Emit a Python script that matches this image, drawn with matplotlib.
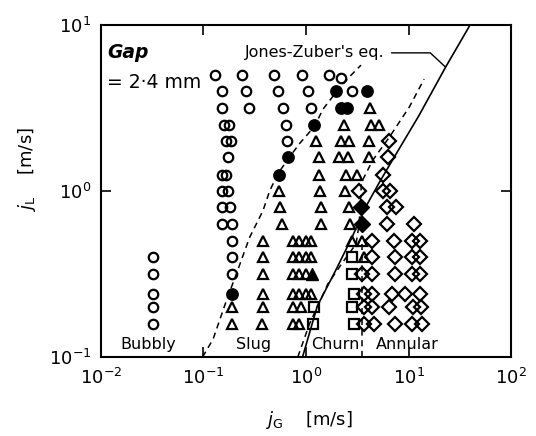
import matplotlib.pyplot as plt
from matplotlib.ticker import LogLocator, NullLocator

# --- flow pattern data, superficial velocities [m/s] ---
# open circles (bubbly / slug)
circle_jg = [0.129, 0.236, 0.49, 0.92, 1.69, 2.2,
             0.150, 0.262, 0.53, 1.05, 2.8,
             0.153, 0.276, 0.59, 1.13,
             0.158, 0.177, 0.64,
             0.167, 0.187, 0.65,
             0.172,
             0.150, 0.167,
             0.153, 0.173,
             0.150, 0.180,
             0.150, 0.188,
             0.188,
             0.032, 0.188,
             0.032, 0.190,
             0.032, 0.032, 0.032]
circle_jl = [5.0, 5.0, 5.0, 5.0, 5.0, 4.8,
             4.0, 4.0, 4.0, 4.0, 4.0,
             3.15, 3.15, 3.15, 3.15,
             2.5, 2.5, 2.5,
             2.0, 2.0, 2.0,
             1.6,
             1.25, 1.25,
             1.0, 1.0,
             0.8, 0.8,
             0.63, 0.63,
             0.5,
             0.4, 0.4,
             0.315, 0.315,
             0.24, 0.2, 0.157]

# filled circles
dot_jg = [0.54, 0.66, 1.21, 1.94, 2.2, 2.5, 3.9, 0.188]
dot_jl = [1.25, 1.6, 2.5, 4.0, 3.15, 3.15, 4.0, 0.24]

# open triangles (slug)
tri_jg = [4.25,
          2.33, 4.35, 5.2,
          1.26, 2.2, 2.6, 4.15,
          1.33, 2.09, 2.55, 4.1,
          1.35, 2.45, 3.15,
          0.544, 1.37, 2.42,
          0.552, 1.41, 2.6,
          0.577, 1.41, 2.66,
          0.377, 0.74, 0.86, 0.99, 1.13, 2.78, 3.55,
          0.377, 0.74, 0.86, 0.99, 1.13, 3.7,
          0.377, 0.74, 0.86, 0.99,
          0.377, 0.74, 0.86, 0.99, 1.13,
          0.188, 0.377, 0.74, 0.9,
          0.188, 0.369, 0.74, 0.86]
tri_jl = [3.15,
          2.5, 2.5, 2.5,
          2.0, 2.0, 2.0, 2.0,
          1.6, 1.6, 1.6, 1.6,
          1.25, 1.25, 1.25,
          1.0, 1.0, 1.0,
          0.8, 0.8, 0.8,
          0.63, 0.63, 0.63,
          0.5, 0.5, 0.5, 0.5, 0.5, 0.5, 0.5,
          0.4, 0.4, 0.4, 0.4, 0.4, 0.4,
          0.315, 0.315, 0.315, 0.315,
          0.24, 0.24, 0.24, 0.24, 0.24,
          0.2, 0.2, 0.2, 0.2,
          0.157, 0.157, 0.157, 0.157]

# filled triangle
ftri_jg = [1.15]
ftri_jl = [0.315]

# open squares (churn)
sq_jg = [2.84, 2.84, 2.95, 1.21, 2.84, 1.18, 2.95]
sq_jl = [0.4, 0.315, 0.24, 0.2, 0.2, 0.157, 0.157]

# open diamonds (annular)
dia_jg = [6.5, 6.3, 5.6,
          3.32, 5.7, 6.6,
          6.1, 7.6,
          6.1, 11.2,
          4.45, 7.2, 10.7, 12.8,
          4.45, 7.3, 10.7, 12.8,
          3.55, 4.45, 7.3, 10.7, 12.8,
          3.64, 4.45, 6.9, 9.3, 13.0,
          3.64, 4.45, 6.5, 11.0, 13.3,
          3.7, 4.6, 7.3, 10.9, 13.6]
dia_jl = [2.0, 1.6, 1.25,
          1.0, 1.0, 1.0,
          0.8, 0.8,
          0.63, 0.63,
          0.5, 0.5, 0.5, 0.5,
          0.4, 0.4, 0.4, 0.4,
          0.315, 0.315, 0.315, 0.315, 0.315,
          0.24, 0.24, 0.24, 0.24, 0.24,
          0.2, 0.2, 0.2, 0.2, 0.2,
          0.157, 0.157, 0.157, 0.157, 0.157]

# filled diamonds
fdia_jg = [3.45, 3.5]
fdia_jl = [0.8, 0.63]

# --- transition boundaries ---
bubbly_slug_jg = [0.098, 0.124, 0.167, 0.209, 0.282, 0.38, 0.442, 0.531,
                  0.69, 0.865, 1.21, 1.46, 1.94, 2.65, 3.44]
bubbly_slug_jl = [0.1, 0.128, 0.218, 0.316, 0.526, 0.76, 1.0, 1.27,
                  1.6, 1.93, 2.45, 3.1, 3.9, 4.87, 5.73]

slug_annular_jg = [0.832, 1.08, 1.63, 2.28, 3.08, 3.28, 3.39, 3.47,
                   4.47, 6.5, 10.2, 14.2]
slug_annular_jl = [0.1, 0.158, 0.275, 0.372, 0.48, 0.62, 0.817, 1.125,
                   1.53, 2.11, 3.21, 4.72]

churn_annular_jg = [3.49, 3.49]
churn_annular_jl = [0.1, 0.5]

jones_zuber_jg = [0.925, 1.29, 1.94, 2.77, 3.79, 5.19, 6.95, 12.7, 23.1, 39.0]
jones_zuber_jl = [0.1, 0.203, 0.331, 0.516, 0.794, 1.125, 1.53, 2.86, 5.6, 9.77]

regions = ['Bubbly', 'Slug', 'Churn', 'Annular']
region_x = [0.115, 0.372, 0.571, 0.746]

fig = plt.figure(figsize=(5.36, 4.36), dpi=100)
ax = fig.add_axes([0.1884, 0.1812, 0.765, 0.7615])

open_kw = dict(linestyle='none', markerfacecolor='none', markeredgecolor='black',
               markeredgewidth=1.6)
fill_kw = dict(linestyle='none', color='black')

ax.plot(circle_jg, circle_jl, marker='o', markersize=6.8, **open_kw)
ax.plot(tri_jg, tri_jl, marker='^', markersize=7.0, **open_kw)
ax.plot(sq_jg, sq_jl, marker='s', markersize=6.6, **open_kw)
ax.plot(dia_jg, dia_jl, marker='D', markersize=6.8, **open_kw)
ax.plot(dot_jg, dot_jl, marker='o', markersize=8.2, **fill_kw)
ax.plot(ftri_jg, ftri_jl, marker='^', markersize=8.0, **fill_kw)
ax.plot(fdia_jg, fdia_jl, marker='D', markersize=8.0, **fill_kw)

dash = (0, (4, 3))
ax.plot(bubbly_slug_jg, bubbly_slug_jl, color='black', lw=1.1, linestyle=dash)
ax.plot(slug_annular_jg, slug_annular_jl, color='black', lw=1.1, linestyle=dash)
ax.plot(churn_annular_jg, churn_annular_jl, color='black', lw=1.1, linestyle=dash)
ax.plot(jones_zuber_jg, jones_zuber_jl, color='black', lw=1.2)

ax.set_xscale('log')
ax.set_yscale('log')
ax.set_xlim(1e-2, 1e2)
ax.set_ylim(1e-1, 1e1)
ax.xaxis.set_major_locator(LogLocator(base=10, numticks=10))
ax.yaxis.set_major_locator(LogLocator(base=10, numticks=10))
ax.xaxis.set_minor_locator(NullLocator())
ax.yaxis.set_minor_locator(NullLocator())
ax.tick_params(which='major', direction='in', length=7, width=1.2,
               top=True, right=True, labelsize=13)
ax.tick_params(axis='x', pad=8)
ax.tick_params(axis='y', pad=7)
for s in ax.spines.values():
    s.set_linewidth(1.5)

ax.annotate("Jones-Zuber's eq.", xy=(22.8, 5.6), xytext=(0.351, 0.916),
            textcoords='axes fraction', fontsize=11.5, ha='left', va='center',
            arrowprops=dict(arrowstyle='-', lw=1.0, color='black',
                            relpos=(1.0, 0.5), shrinkA=3, shrinkB=0,
                            connectionstyle='angle,angleA=0,angleB=137,rad=0'))

ax.text(0.015, 0.916, 'Gap', transform=ax.transAxes, fontsize=13.5,
        style='italic', fontweight='bold', ha='left', va='center')
ax.text(0.015, 0.828, '= 2·4 mm', transform=ax.transAxes, fontsize=13.5,
        ha='left', va='center')

for name, xpos in zip(regions, region_x):
    ax.text(xpos, 0.039, name, transform=ax.transAxes, fontsize=11.5,
            ha='center', va='center')

fig.text(309 / 536, 1 - 420 / 436, r'$j_{\rm G}$    [m/s]', fontsize=13,
         ha='center', va='center')
fig.text(0.05, 1 - 170 / 436, r'$j_{\rm L}$    [m/s]', fontsize=13,
         ha='center', va='center', rotation=90)

fig.savefig('out.png', dpi=100)
